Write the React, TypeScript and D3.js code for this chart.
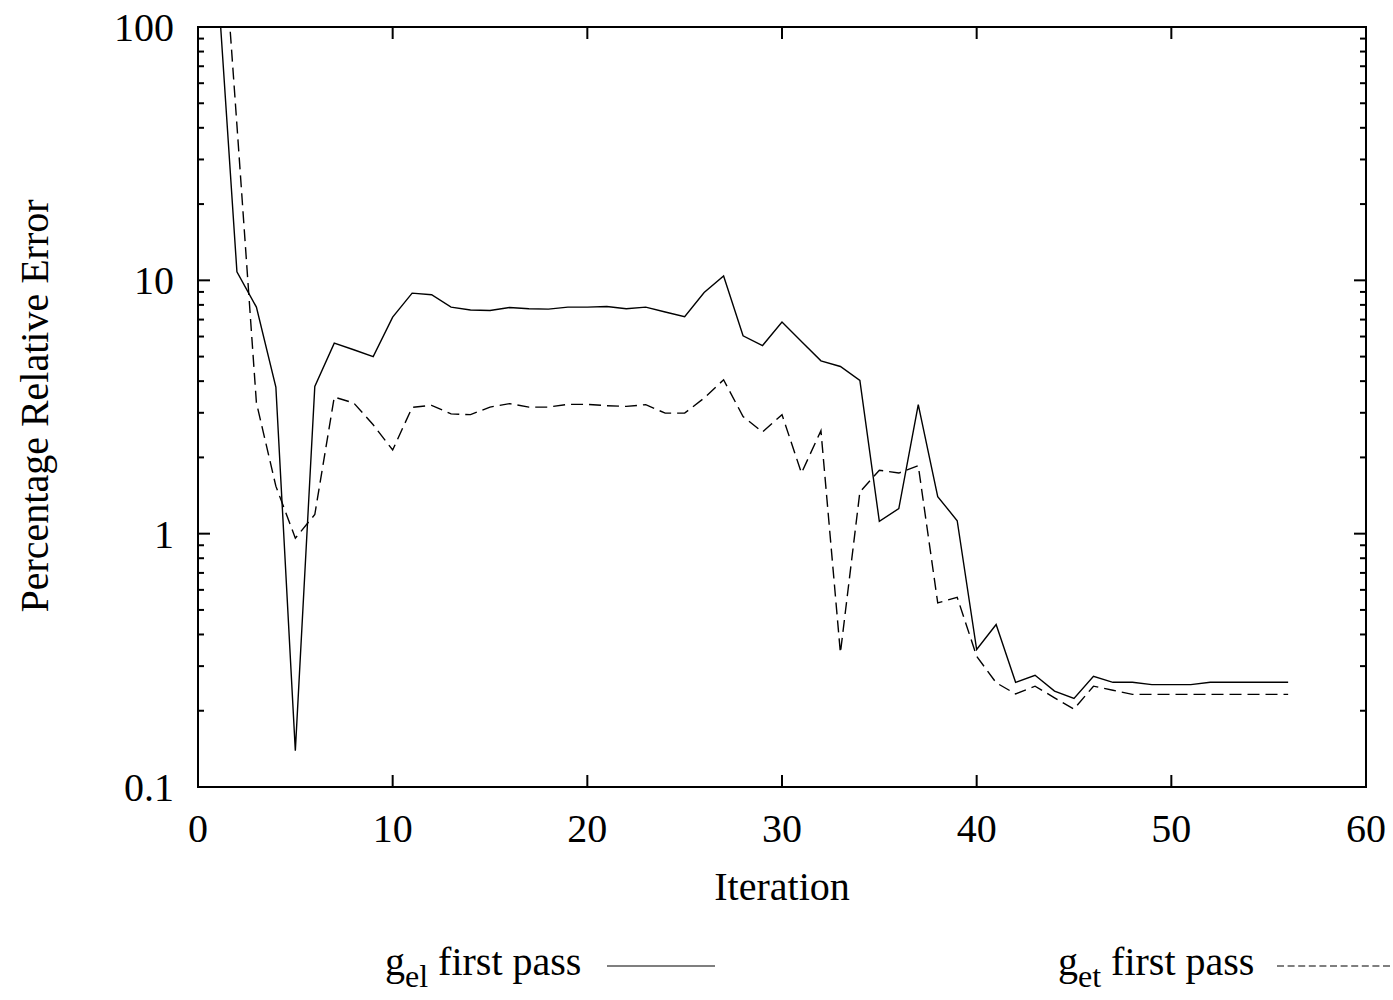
import React from "react";
import * as d3 from "d3";

const iterations = [1,2,3,4,5,6,7,8,9,10,11,12,13,14,15,16,17,18,19,20,21,22,23,24,25,26,27,28,29,30,31,32,33,34,35,36,37,38,39,40,41,42,43,44,45,46,47,48,49,50,51,52,53,54,55,56];

const gelFirstPass = [155,10.8,7.84,3.79,0.139,3.81,5.65,5.32,5.0,7.16,8.9,8.77,7.84,7.64,7.6,7.81,7.72,7.7,7.84,7.84,7.88,7.72,7.84,7.5,7.18,8.95,10.4,6.04,5.53,6.84,5.74,4.81,4.57,4.03,1.118,1.255,3.23,1.4,1.125,0.349,0.438,0.259,0.276,0.239,0.2235,0.2735,0.259,0.259,0.2536,0.2536,0.2536,0.259,0.259,0.259,0.259,0.259];

const getFirstPass = [490,41,3.29,1.54,0.96,1.19,3.46,3.28,2.69,2.14,3.15,3.21,2.97,2.95,3.16,3.26,3.16,3.16,3.24,3.24,3.2,3.18,3.23,2.99,2.99,3.43,4.05,2.9,2.52,2.95,1.735,2.55,0.338,1.46,1.78,1.735,1.855,0.533,0.561,0.328,0.258,0.233,0.25,0.225,0.203,0.25,0.241,0.232,0.232,0.232,0.232,0.232,0.232,0.232,0.232,0.232];

const xTicks = [0, 10, 20, 30, 40, 50, 60];
const yMajorTicks = [0.1, 1, 10, 100];
const yTickLabels = ["0.1", "1", "10", "100"];
const yMinorMultipliers = [2, 3, 4, 5, 6, 7, 8, 9];

const xTitle = "Iteration";
const yTitle = "Percentage Relative Error";
const legendMain = "first pass";
const legendSubs = ["el", "et"];

const W = 1393;
const H = 1000;
const L = 198, R = 1366, T = 27, B = 787;
const FONT = "'Liberation Serif', 'Times New Roman', Times, serif";

export default function App() {
  const x = d3.scaleLinear().domain([0, 60]).range([L, R]);
  const y = d3.scaleLog().domain([0.1, 100]).range([B, T]);

  const line = d3
    .line<number>()
    .x((_, i) => x(iterations[i]))
    .y((d) => y(d));

  const minorTicks: number[] = [];
  for (let dec = 0; dec < 3; dec++) {
    const base = yMajorTicks[dec];
    for (const m of yMinorMultipliers) minorTicks.push(base * m);
  }

  const major = 12;
  const minor = 6;

  return (
    <svg
      width={W}
      height={H}
      viewBox={`0 0 ${W} ${H}`}
      style={{ position: "absolute", left: 0, top: 0, background: "#fff" }}
      fontFamily={FONT}
    >
      <rect x={0} y={0} width={W} height={H} fill="#fff" />
      <defs>
        <clipPath id="plotClip">
          <rect x={L} y={T} width={R - L} height={B - T} />
        </clipPath>
      </defs>

      {/* ticks */}
      <g stroke="#000" strokeWidth={2}>
        {xTicks.map((t) => (
          <g key={"xt" + t}>
            <line x1={x(t)} x2={x(t)} y1={B} y2={B - major} />
            <line x1={x(t)} x2={x(t)} y1={T} y2={T + major} />
          </g>
        ))}
        {yMajorTicks.map((t) => (
          <g key={"yt" + t}>
            <line x1={L} x2={L + major} y1={y(t)} y2={y(t)} />
            <line x1={R} x2={R - major} y1={y(t)} y2={y(t)} />
          </g>
        ))}
        {minorTicks.map((t) => (
          <g key={"ym" + t}>
            <line x1={L} x2={L + minor} y1={y(t)} y2={y(t)} />
            <line x1={R} x2={R - minor} y1={y(t)} y2={y(t)} />
          </g>
        ))}
      </g>

      {/* data */}
      <g clipPath="url(#plotClip)" fill="none" stroke="#000">
        <path d={line(gelFirstPass) || ""} strokeWidth={1.4} />
        <path d={line(getFirstPass) || ""} strokeWidth={1.4} strokeDasharray="12,6" />
      </g>

      {/* frame */}
      <rect x={L} y={T} width={R - L} height={B - T} fill="none" stroke="#000" strokeWidth={2} />

      {/* tick labels */}
      <g fontSize={40} fill="#000">
        {xTicks.map((t) => (
          <text key={"xl" + t} x={x(t)} y={842} textAnchor="middle">
            {t}
          </text>
        ))}
        {yMajorTicks.map((t, i) => (
          <text key={"yl" + t} x={174} y={y(t) + 14} textAnchor="end">
            {yTickLabels[i]}
          </text>
        ))}
      </g>

      {/* axis titles */}
      <text x={782} y={900} fontSize={40} textAnchor="middle">
        {xTitle}
      </text>
      <text
        transform={`translate(48, 406) rotate(-90)`}
        fontSize={40}
        textAnchor="middle"
      >
        {yTitle}
      </text>

      {/* legend */}
      <text x={385} y={975} fontSize={40}>
        g
        <tspan fontSize={32} dy={12}>{legendSubs[0]}</tspan>
        <tspan dy={-12}> {legendMain}</tspan>
      </text>
      <line x1={607} x2={715} y1={966} y2={966} stroke="#000" strokeWidth={1.2} />

      <text x={1058} y={975} fontSize={40}>
        g
        <tspan fontSize={32} dy={12}>{legendSubs[1]}</tspan>
        <tspan dy={-12}> {legendMain}</tspan>
      </text>
      <line x1={1277} x2={1393} y1={966} y2={966} stroke="#000" strokeWidth={1.2} strokeDasharray="7,3.6" />
    </svg>
  );
}
